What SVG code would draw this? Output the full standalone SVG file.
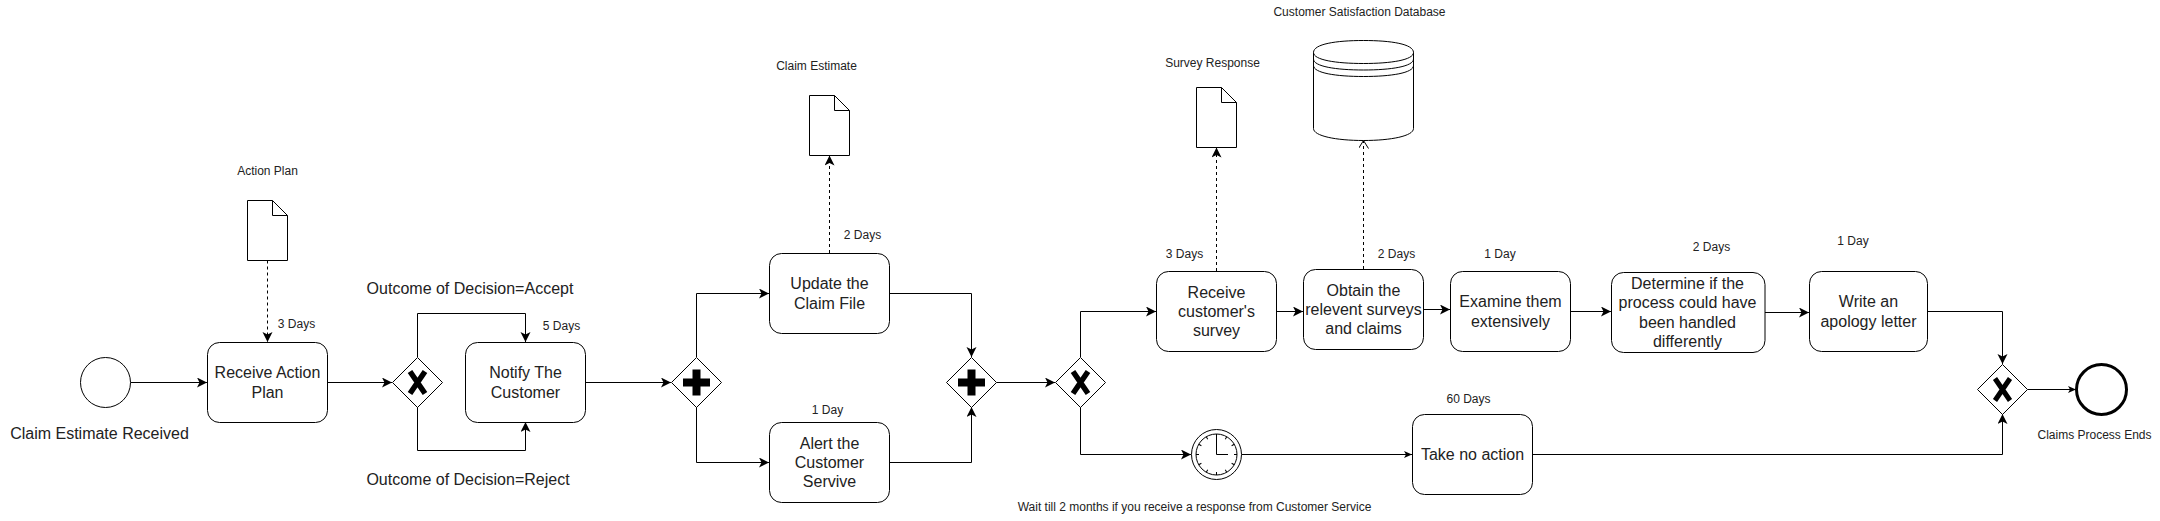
<svg xmlns="http://www.w3.org/2000/svg" xmlns:xlink="http://www.w3.org/1999/xlink" width="2160" height="521" viewBox="0 0 2160 521">
<style>
text{font-family:"Liberation Sans",Arial,sans-serif;fill:#222;text-anchor:middle}
.t{font-size:16px}
.s{font-size:12px}
.box{fill:#fff;stroke:#000;stroke-width:1}
.sh{fill:#fff;stroke:#000;stroke-width:1}
.c{fill:none;stroke:#000;stroke-width:1;marker-end:url(#a)}
.c2{fill:none;stroke:#000;stroke-width:1;marker-end:url(#as)}
.d{fill:none;stroke:#000;stroke-width:1;stroke-dasharray:3 3;marker-end:url(#a)}
.d2{fill:none;stroke:#000;stroke-width:1;stroke-dasharray:3 3;marker-end:url(#o)}
.m{fill:none;stroke:#000}
</style>
<defs>
<marker id="a" markerUnits="userSpaceOnUse" markerWidth="12" markerHeight="12" refX="10" refY="5" orient="auto"><path d="M0 0L10 5L0 10L2.5 5Z" fill="#000"/></marker>
<marker id="as" markerUnits="userSpaceOnUse" markerWidth="10" markerHeight="10" refX="8" refY="3.5" orient="auto"><path d="M0 0L8 3.5L0 7L2 3.5Z" fill="#000"/></marker>
<marker id="o" markerUnits="userSpaceOnUse" markerWidth="10" markerHeight="12" refX="8" refY="5" orient="auto"><path d="M0 0L8 5L0 10" fill="none" stroke="#000"/></marker>
<g id="xg"><path class="sh" d="M0 -25L25 0L0 25L-25 0Z"/><path class="m" stroke-width="5.5" d="M-7.500 -11L7.500 11M7.500 -11L-7.500 11"/></g>
<g id="xs"><path class="sh" d="M0 -25L25 0L0 25L-25 0Z"/><path class="m" stroke-width="5" d="M-7.500 -11L7.500 11M7.500 -11L-7.500 11"/></g>
<g id="pg"><path class="sh" d="M0 -25L25 0L0 25L-25 0Z"/><path class="m" stroke-width="8" d="M-13.500 0H13.500M0 -13V13"/></g>
<path id="doc" class="sh" d="M0 0H25L40 15V60H0ZM25 0V15H40"/>
</defs>

<g id="connectors">
<path class="c" d="M130.5 382.5H207"/>
<path class="c" d="M327.5 382.5H392"/>
<path class="c" d="M417.5 357V313.5H525.5V342"/>
<path class="c" d="M417.5 407V450.5H525.5V422"/>
<path class="d" d="M267.5 260.5V342"/>
<path class="c" d="M585.5 382.5H671"/>
<path class="c" d="M696.5 357V293.5H769"/>
<path class="c" d="M696.5 407V462.5H769"/>
<path class="d" d="M829.5 253V155.5"/>
<path class="c" d="M889.5 293.5H971.5V357"/>
<path class="c" d="M889.5 462.5H971.5V407"/>
<path class="c" d="M996.5 382.5H1055"/>
<path class="c" d="M1080.5 357V311.5H1156"/>
<path class="c" d="M1080.5 407V454.5H1191"/>
<path class="d" d="M1216.5 271V147.5"/>
<path class="d2" d="M1363.5 269V140.5"/>
<path class="c" d="M1276.5 311.5H1303"/>
<path class="c" d="M1423.5 309.5H1450"/>
<path class="c" d="M1570.5 311.5H1611"/>
<path class="c" d="M1765 312.5H1809"/>
<path class="c2" d="M1241.5 454.5H1412"/>
<path class="c" d="M1927.5 311.5H2002.5V364"/>
<path class="c" d="M1532.5 454.5H2002.5V414"/>
<path class="c2" d="M2027.5 389.5H2076"/>
</g>

<g id="start"><circle class="sh" cx="105.5" cy="382.5" r="25"/><text class="t" x="99.5" y="438.5">Claim Estimate Received</text></g>
<g id="doc-action"><use xlink:href="#doc" href="#doc" x="247.5" y="200.5"/><text class="s" x="267.5" y="175">Action Plan</text></g>
<g id="receive-action"><rect class="box" x="207.5" y="342.5" width="120" height="80" rx="12"/><text class="t" x="267.5" y="378">Receive Action</text><text class="t" x="267.5" y="398">Plan</text><text class="s" x="296.5" y="328">3 Days</text></g>
<g id="gw1"><use xlink:href="#xg" href="#xg" x="417.5" y="382.5"/></g>
<text class="t" x="470" y="293.5">Outcome of Decision=Accept</text>
<text class="t" x="468" y="484.5">Outcome of Decision=Reject</text>
<g id="notify"><rect class="box" x="465.5" y="342.5" width="120" height="80" rx="12"/><text class="t" x="525.5" y="378">Notify The</text><text class="t" x="525.5" y="398">Customer</text><text class="s" x="561.5" y="330">5 Days</text></g>
<g id="gw2"><use xlink:href="#pg" href="#pg" x="696.5" y="382.5"/></g>
<g id="update"><rect class="box" x="769.5" y="253.5" width="120" height="80" rx="12"/><text class="t" x="829.5" y="289">Update the</text><text class="t" x="829.5" y="309">Claim File</text><text class="s" x="862.5" y="239">2 Days</text></g>
<g id="doc-claim"><use xlink:href="#doc" href="#doc" x="809.5" y="95.5"/><text class="s" x="816.5" y="70">Claim Estimate</text></g>
<g id="alert"><rect class="box" x="769.5" y="422.5" width="120" height="80" rx="12"/><text class="t" x="829.5" y="449">Alert the</text><text class="t" x="829.5" y="468">Customer</text><text class="t" x="829.5" y="487">Servive</text><text class="s" x="827.5" y="414">1 Day</text></g>
<g id="gw3"><use xlink:href="#pg" href="#pg" x="971.5" y="382.5"/></g>
<g id="gw4"><use xlink:href="#xg" href="#xg" x="1080.5" y="382.5"/></g>
<g id="receive-survey"><rect class="box" x="1156.5" y="271.5" width="120" height="80" rx="12"/><text class="t" x="1216.5" y="298">Receive</text><text class="t" x="1216.5" y="317">customer's</text><text class="t" x="1216.5" y="336">survey</text><text class="s" x="1184.5" y="258">3 Days</text></g>
<g id="doc-survey"><use xlink:href="#doc" href="#doc" x="1196.5" y="87.5"/><text class="s" x="1212.5" y="67">Survey Response</text></g>
<g id="obtain"><rect class="box" x="1303.5" y="269.5" width="120" height="80" rx="12"/><text class="t" x="1363.5" y="296">Obtain the</text><text class="t" x="1363.5" y="315">relevent surveys</text><text class="t" x="1363.5" y="334">and claims</text><text class="s" x="1396.5" y="258">2 Days</text></g>
<g id="database"><path class="sh" d="M1313.5 52.5C1313.5 44 1336 40.5 1363.5 40.5C1391 40.5 1413.5 44 1413.5 52.5V128.5C1413.5 136 1391 140.5 1363.5 140.5C1336 140.5 1313.5 136 1313.5 128.5Z"/><path class="m" stroke-width="1" d="M1313.5 52.5C1313.5 60 1336 63.5 1363.5 63.5C1391 63.5 1413.5 60 1413.5 52.5M1313.5 59C1313.5 66.500 1336 70 1363.5 70C1391 70 1413.5 66.500 1413.5 59M1313.5 65.500C1313.5 73 1336 76.500 1363.5 76.500C1391 76.500 1413.5 73 1413.5 65.500"/><text class="s" x="1359.5" y="16">Customer Satisfaction Database</text></g>
<g id="examine"><rect class="box" x="1450.5" y="271.5" width="120" height="80" rx="12"/><text class="t" x="1510.5" y="307">Examine them</text><text class="t" x="1510.5" y="327">extensively</text><text class="s" x="1500" y="258">1 Day</text></g>
<g id="determine"><rect class="box" x="1611.5" y="272.5" width="153.500" height="80" rx="12"/><text class="t" x="1687.500" y="289">Determine if the</text><text class="t" x="1687.500" y="308">process could have</text><text class="t" x="1687.500" y="328">been handled</text><text class="t" x="1687.500" y="347">differently</text><text class="s" x="1711.500" y="251">2 Days</text></g>
<g id="write"><rect class="box" x="1809.5" y="271.5" width="118" height="80" rx="12"/><text class="t" x="1868.5" y="307">Write an</text><text class="t" x="1868.5" y="327">apology letter</text><text class="s" x="1853" y="245">1 Day</text></g>
<g id="timer"><circle class="sh" cx="1216.5" cy="454.5" r="25"/><circle class="sh" cx="1216.5" cy="454.5" r="20.500"/>
<g class="m" stroke-width="1"><path id="tk" d="M1216.5 434V437"/><use xlink:href="#tk" href="#tk" transform="rotate(30 1216.5 454.5)"/><use xlink:href="#tk" href="#tk" transform="rotate(60 1216.5 454.5)"/><use xlink:href="#tk" href="#tk" transform="rotate(90 1216.5 454.5)"/><use xlink:href="#tk" href="#tk" transform="rotate(120 1216.5 454.5)"/><use xlink:href="#tk" href="#tk" transform="rotate(150 1216.5 454.5)"/><use xlink:href="#tk" href="#tk" transform="rotate(180 1216.5 454.5)"/><use xlink:href="#tk" href="#tk" transform="rotate(210 1216.5 454.5)"/><use xlink:href="#tk" href="#tk" transform="rotate(240 1216.5 454.5)"/><use xlink:href="#tk" href="#tk" transform="rotate(270 1216.5 454.5)"/><use xlink:href="#tk" href="#tk" transform="rotate(300 1216.5 454.5)"/><use xlink:href="#tk" href="#tk" transform="rotate(330 1216.5 454.5)"/></g>
<path class="m" stroke-width="1" d="M1216.5 436.500V454.500H1228"/><text class="s" x="1194.500" y="511">Wait till 2 months if you receive a response from Customer Service</text></g>
<g id="no-action"><rect class="box" x="1412.5" y="414.5" width="120" height="80" rx="12"/><text class="t" x="1472.5" y="460">Take no action</text><text class="s" x="1468.5" y="403">60 Days</text></g>
<g id="gw5"><use xlink:href="#xs" href="#xs" x="2002.5" y="389.5"/></g>
<g id="end"><circle cx="2101.5" cy="389.5" r="25" fill="#fff" stroke="#000" stroke-width="3"/><text class="s" x="2094.500" y="439">Claims Process Ends</text></g>
</svg>
